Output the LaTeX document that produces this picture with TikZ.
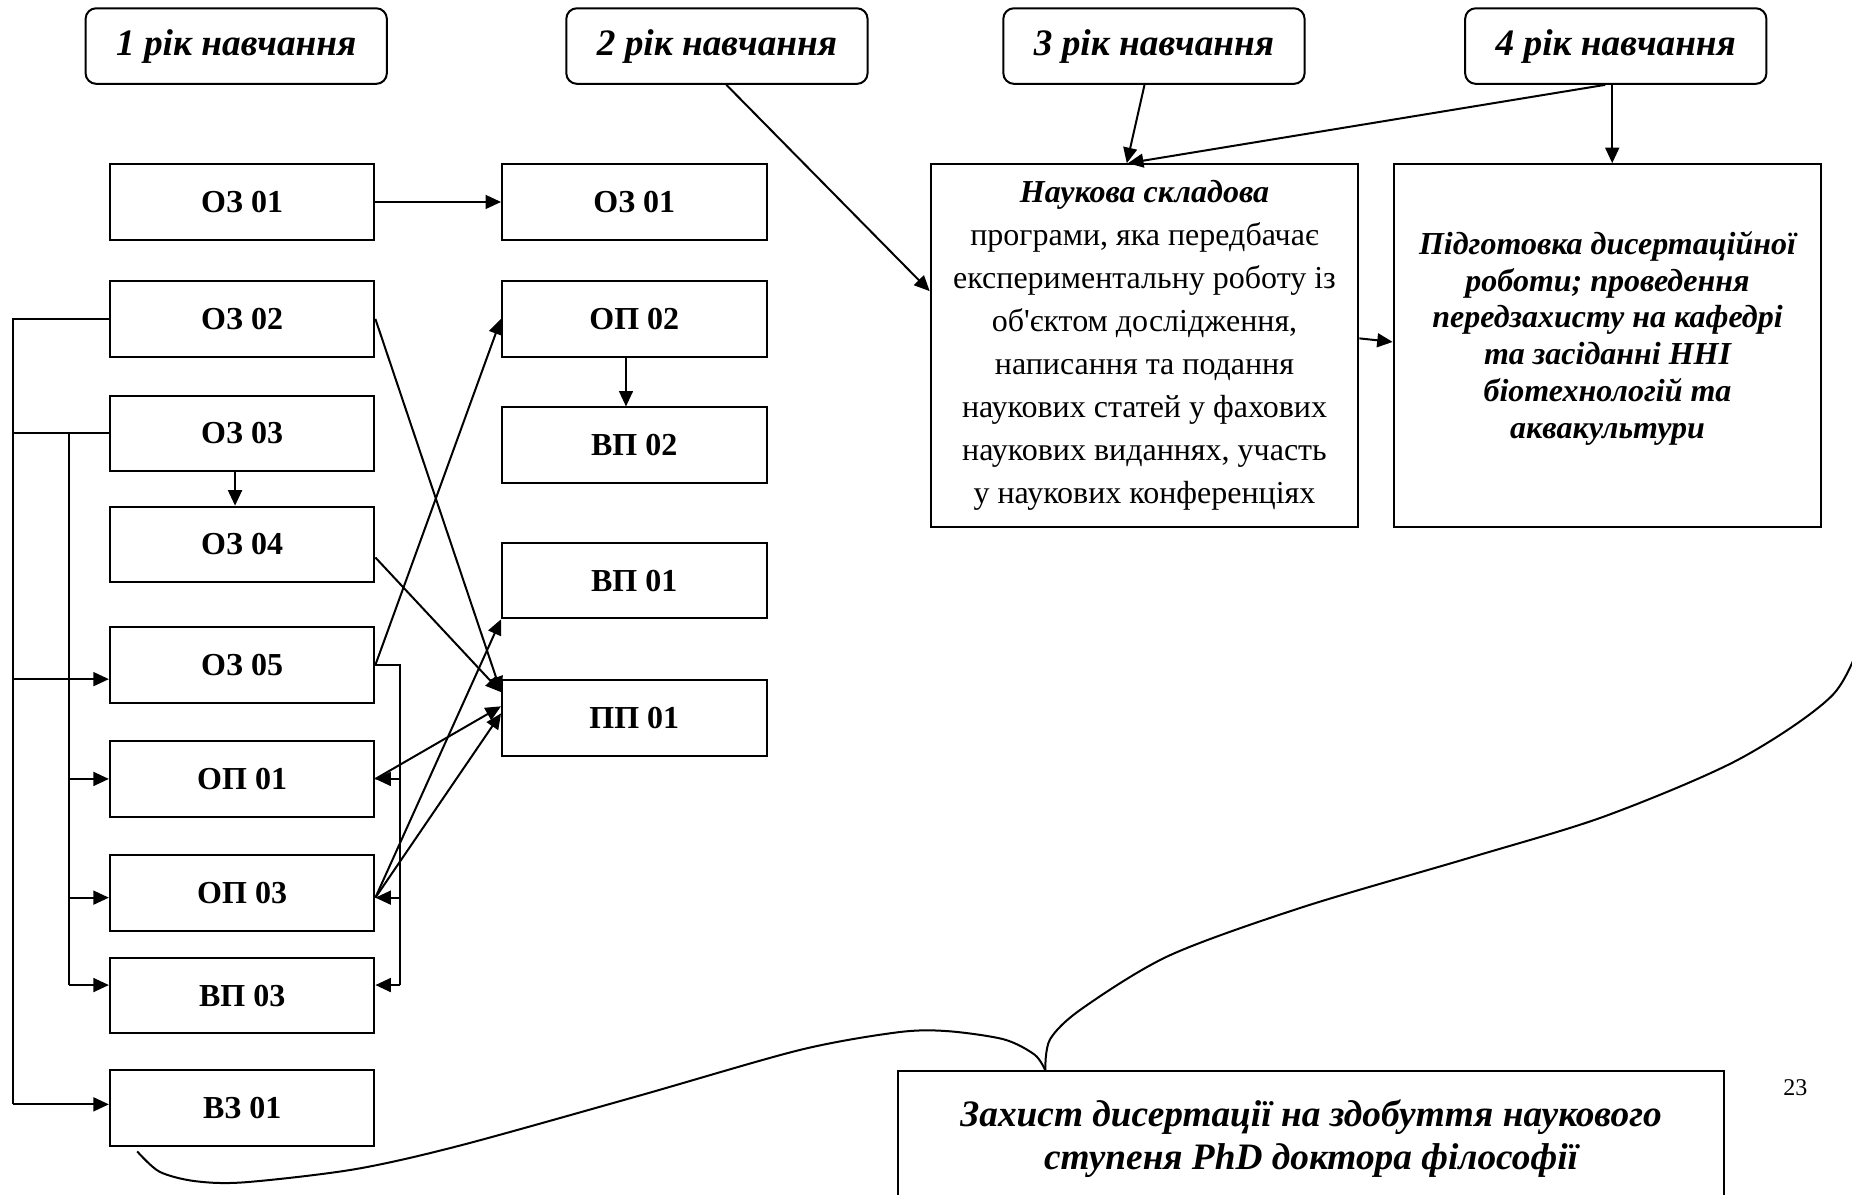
\documentclass[tikz,border=0pt]{standalone}
\usepackage{fontspec}
\setmainfont{Liberation Serif}[Ligatures=TeXOff]
\usetikzlibrary{arrows.meta,calc}

\begin{document}
\begin{tikzpicture}[x=0.443pt,y=-0.443pt]

	% --- параметри ---
	\newcommand{\xLeft}{205}
	\newcommand{\xMid}{537}

	% --- списки (ім'я / текст / y) ---
	\def\colLeft{a1/ОЗ 01/171, a2/ОЗ 02/270, a3/ОЗ 03/367, a4/ОЗ 04/461,
		a5/ОЗ 05/563, a6/ОП 01/659.5, a7/ОП 03/756, a8/ВП 03/843, a9/ВЗ 01/938}
	\def\colMid{b1/ОЗ 01/171, b2/ОП 02/270, b3/ВП 02/377, b4/ВП 01/491.5, b5/ПП 01/608}

	% рамка
	\useasboundingbox (0,0) rectangle (1568,1011);
	\clip (0,0) rectangle (1568,1011);

	% стилі
	\tikzset{
		year/.style = {draw, rounded corners=4pt, line width=0.75pt, minimum width=113pt,
			minimum height=28.35pt, font=\fontsize{14}{16}\selectfont\bfseries\itshape},
		subj/.style = {draw, line width=0.75pt, minimum width=99.2pt, minimum height=28.35pt,
			font=\fontsize{12}{14}\selectfont\bfseries},
		big/.style  = {draw, line width=0.75pt, minimum width=160.4pt, minimum height=136pt,
			align=center, inner sep=0pt},
		arr/.style  = {-{Triangle[length=5.8pt,width=5.2pt]}, line width=0.75pt},
		ln/.style   = {line width=0.75pt},
	}

	% роки навчання
	\node[year] (y1) at (200,39)  {1 рік навчання};
	\node[year] (y2) at (607,39)  {2 рік навчання};
	\node[year] (y3) at (977,39)  {3 рік навчання};
	\node[year] (y4) at (1368,39) {4 рік навчання};

	% дисципліни
	\foreach \n/\t/\y in \colLeft {\node[subj] (\n) at (\xLeft,\y) {\t};}
	\foreach \n/\t/\y in \colMid  {\node[subj] (\n) at (\xMid,\y) {\t};}

	% великі блоки
	\node[big, font=\fontsize{12}{16.1}\selectfont] (nauk) at (969,292.5)
		{{\bfseries\itshape Наукова складова}\\ програми, яка передбачає\\
		 експериментальну роботу із\\ об'єктом дослідження,\\ написання та подання\\
		 наукових статей у фахових\\ наукових виданнях, участь\\ у наукових конференціях};
	\node[big, text depth=8pt, font=\fontsize{12}{13.8}\selectfont\bfseries\itshape] (pidg) at (1361,292.5)
		{Підготовка дисертаційної\\ роботи; проведення\\ передзахисту на кафедрі\\
		 та засіданні ННІ\\ біотехнологій та\\ аквакультури};
	\node[big, minimum width=310pt, minimum height=50.5pt,
		font=\fontsize{14}{16.4}\selectfont\bfseries\itshape] (zah) at (1110,964)
		{Захист дисертації на здобуття наукового\\ ступеня PhD доктора філософії};
	\node[font=\fontsize{9}{10}\selectfont] (pg) at (1520,921) {23};

	% точки шин
	\coordinate (busA) at (11,0);
	\coordinate (busB) at (58,0);
	\coordinate (busC) at (339,0);
	\coordinate (a4r) at ($(a4.east)+(0,11)$);
	\coordinate (a5l) at ($(a5.west)+(0,12)$);
	\coordinate (a7l) at ($(a7.west)+(0,4)$);
	\coordinate (a7r) at ($(a7.east)+(0,4)$);
	\coordinate (a8l) at ($(a8.west)+(0,-9)$);
	\coordinate (a8r) at ($(a8.east)+(0,-9)$);
	\coordinate (a9l) at ($(a9.west)+(0,-3)$);

	% зв'язки між дисциплінами
	\draw[arr] (a1) -- (b1);
	\draw[arr] ($(a3.south)+(-6,-2)$) -- ($(a4.north)+(-6,0)$);
	\draw[arr] ($(b2.south)+(-7,0)$) -- ($(b3.north)+(-7,0)$);
	\draw[arr] (a2.east) -- ($(b5.west)+(0,-22)$);
	\draw[arr] (a4r) -- ($(b5.west)+(0,-22)$);
	\draw[arr] (a5.east) -- (b2.west);
	\draw[arr] (a6.east) -- ($(b5.west)+(0,-10)$);
	\draw[arr] (a7r) -- (b4.south west);
	\draw[arr] (a7r) -- ($(b5.west)+(0,-4)$);

	% права шина
	\draw[ln] (a5.east) -- (busC |- a5.east) -- (busC |- a8r);
	\draw[arr] (busC |- a6.east) -- (a6.east);
	\draw[arr] (busC |- a7r) -- (a7r);
	\draw[arr] (busC |- a8r) -- (a8r);

	% ліві шини
	\draw[ln] (a2.west) -- (busA |- a2.west) -- (busA |- a9l);
	\draw[ln] (a3.west) -- (busA |- a3.west);
	\draw[ln] (busB |- a3.west) -- (busB |- a8l);
	\draw[arr] (busA |- a5l) -- (a5l);
	\draw[arr] (busA |- a9l) -- (a9l);
	\draw[arr] (busB |- a6.west) -- (a6.west);
	\draw[arr] (busB |- a7l) -- (a7l);
	\draw[arr] (busB |- a8l) -- (a8l);

	% роки -> блоки
	\draw[arr] ($(y2.south)+(8,0)$) -- ($(nauk.west)+(0,-46)$);
	\draw[arr] ($(y3.south)+(-8,0)$) -- ($(nauk.north)+(-15,0)$);
	\draw[arr] ($(y4.south)+(-9,0)$) -- ($(nauk.north)+(-14,0)$);
	\draw[arr] ($(y4.south)+(-3,0)$) -- ($(pidg.north)+(4,0)$);
	\draw[arr] ($(nauk.east)+(0,-6)$) -- ($(pidg.west)+(0,-3)$);

	% фігурна дужка
	\coordinate (brL) at ($(a9.south west)+(24,4)$);
	\coordinate (brT) at ($(zah.north)+(-225,0)$);
	\draw[ln] plot[smooth] coordinates {(brL) (135,992) (165,1000) (207,1001) (300,990)
		(389,970) (540,928) (677,889) (760,874) (802,873) (850,880) (876,893) (brT)};
	\draw[ln] plot[smooth] coordinates {(brT) (889,880) (916,854) (990,809) (1103,768)
		(1245,726) (1359,691) (1472,643) (1552,588) (1580,530)};

\end{tikzpicture}
\end{document}
